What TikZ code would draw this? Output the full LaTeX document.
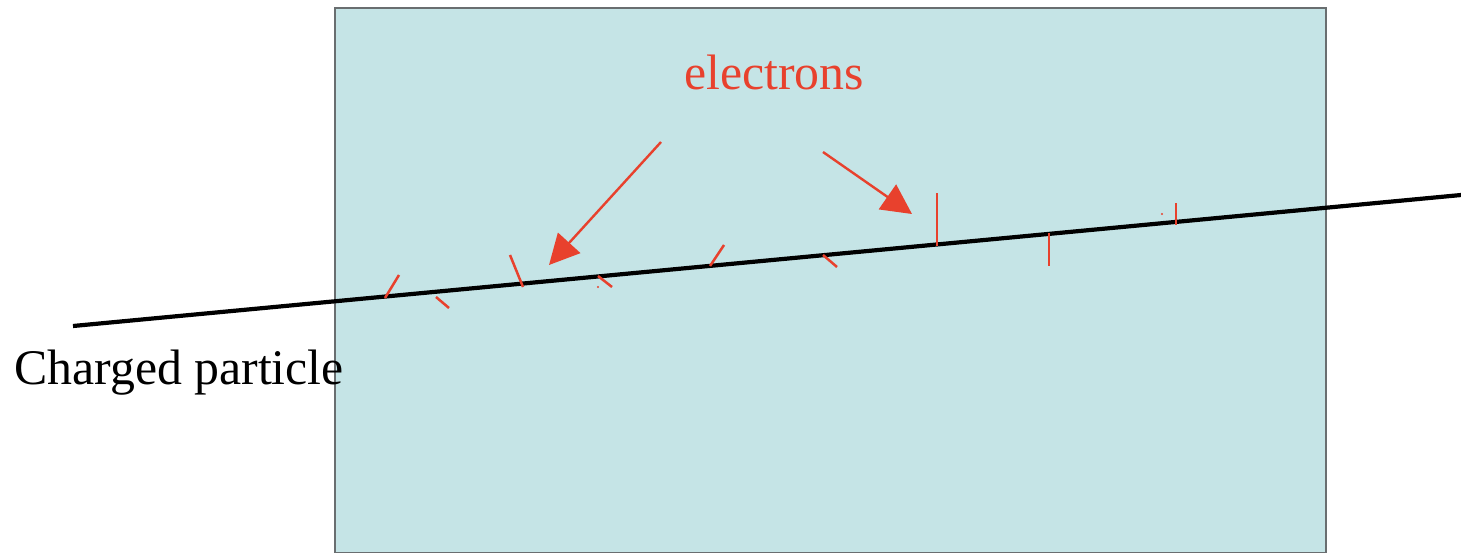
\documentclass[tikz,border=0pt]{standalone}
\usepackage{fontspec}
\setmainfont{Liberation Serif}
\usetikzlibrary{arrows.meta}
\definecolor{slab}{RGB}{197,228,230}
\definecolor{edgegray}{RGB}{105,110,112}
\definecolor{elred}{RGB}{232,65,45}
\tikzset{
  lbl/.style={font=\fontsize{49.8}{56}\selectfont, inner sep=0pt},
  tick/.style={draw=elred, line width=2.5pt},
  pointer/.style={draw=elred, line width=2.4pt, -{Triangle[length=30pt,width=30pt]}},
  track/.style={draw=black, line width=4.2pt}
}
\begin{document}
\begin{tikzpicture}[x=1pt,y=-1pt]
\useasboundingbox (0,0) rectangle (1461,552);
\begin{scope}
\clip (0,0) rectangle (1461,552);
\draw[fill=slab, draw=edgegray, line width=2.8pt] (335,8) rectangle (1326,553);
% charged particle track
\coordinate (tA) at (73,326);
\coordinate (tB) at (1461,195);
\draw[track] (tA) -- (tB);
% delta-ray ticks
\draw[tick] (385,298) -- (399,275);
\draw[tick] (436,297) -- (449,308);
\draw[tick] (510,255) -- (523,287);
\draw[tick] (598,276) -- (612,287);
\fill[elred] (598,287) circle (1.2pt);
\draw[tick] (710,266) -- (724,245);
\draw[tick] (823,255) -- (837,267);
\draw[tick] (937,193) -- (937,246);
\draw[tick] (1049,233) -- (1049,266);
\draw[tick] (1176,203) -- (1176,225);
\fill[elred] (1162,214) circle (1.2pt);
\end{scope}
% labels
\node[lbl, text=elred, anchor=base] (el) at (774,89) {electrons};
\node[lbl, text=black, anchor=base west] (cp) at (14,384) {Charged particle};
% arrows
\coordinate (a1s) at (661,142);
\coordinate (a1e) at (549,265);
\coordinate (a2s) at (823,152);
\coordinate (a2e) at (912,214);
\draw[pointer] (a1s) -- (a1e);
\draw[pointer] (a2s) -- (a2e);
\end{tikzpicture}
\end{document}
